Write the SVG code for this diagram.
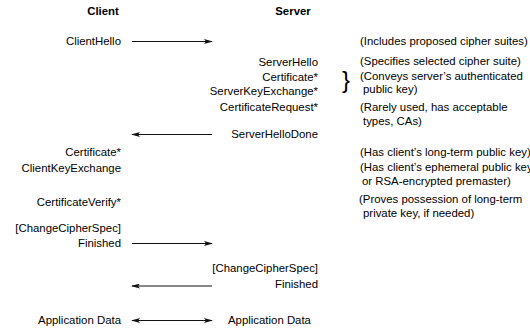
<svg xmlns="http://www.w3.org/2000/svg" width="530" height="328" viewBox="0 0 530 328">
<style>
text{font-family:"Liberation Sans",Arial,sans-serif;font-size:11.4px;fill:#000}
.h{font-weight:bold}
.r{text-anchor:end}
.ln{stroke:#111;stroke-width:1;fill:none}
.br{font-size:24px}
</style>
<defs>
<marker id="ah" markerWidth="9" markerHeight="5" refX="8" refY="2.5" orient="auto" markerUnits="userSpaceOnUse">
<path d="M0,0 L9,2.5 L0,5 L2,2.5 Z" fill="#111"/>
</marker>
<marker id="at" markerWidth="9" markerHeight="5" refX="1" refY="2.5" orient="auto" markerUnits="userSpaceOnUse">
<path d="M9,0 L0,2.5 L9,5 L7,2.5 Z" fill="#111"/>
</marker>
</defs>
<g id="headers">
<text class="h" x="103" y="15" text-anchor="middle">Client</text>
<text class="h" x="293" y="15" text-anchor="middle">Server</text>
</g>
<g id="client">
<text class="r" x="121" y="45">ClientHello</text>
<text class="r" x="121" y="156">Certificate*</text>
<text class="r" x="121" y="172">ClientKeyExchange</text>
<text class="r" x="121" y="206">CertificateVerify*</text>
<text class="r" x="121" y="232">[ChangeCipherSpec]</text>
<text class="r" x="121" y="247">Finished</text>
<text class="r" x="121" y="324">Application Data</text>
</g>
<g id="server">
<text class="r" x="318" y="66">ServerHello</text>
<text class="r" x="318" y="81">Certificate*</text>
<text class="r" x="318" y="95">ServerKeyExchange*</text>
<text class="r" x="318" y="111">CertificateRequest*</text>
<text class="r" x="318" y="138">ServerHelloDone</text>
<text class="r" x="318" y="272">[ChangeCipherSpec]</text>
<text class="r" x="318" y="288">Finished</text>
<text x="228" y="324">Application Data</text>
</g>
<g id="notes">
<text x="360" y="45">(Includes proposed cipher suites)</text>
<text x="360" y="65">(Specifies selected cipher suite)</text>
<text class="br" x="342" y="88">}</text>
<text x="360" y="80">(Conveys server’s authenticated</text>
<text x="363" y="93">public key)</text>
<text x="360" y="111">(Rarely used, has acceptable</text>
<text x="363" y="125">types, CAs)</text>
<text x="360" y="156">(Has client’s long-term public key)</text>
<text x="360" y="171">(Has client’s ephemeral public key</text>
<text x="362" y="185">or RSA-encrypted premaster)</text>
<text x="359" y="203">(Proves possession of long-term</text>
<text x="363" y="217">private key, if needed)</text>
</g>
<g id="connectors">
<line class="ln" x1="132" y1="41.5" x2="212" y2="41.5" marker-end="url(#ah)"/>
<line class="ln" x1="212" y1="134.5" x2="132" y2="134.5" marker-end="url(#ah)"/>
<line class="ln" x1="132" y1="243.5" x2="212" y2="243.5" marker-end="url(#ah)"/>
<line class="ln" x1="212" y1="286" x2="132" y2="286" marker-end="url(#ah)"/>
<line class="ln" x1="132" y1="320.5" x2="212" y2="320.5" marker-start="url(#at)" marker-end="url(#ah)"/>
</g>
</svg>
